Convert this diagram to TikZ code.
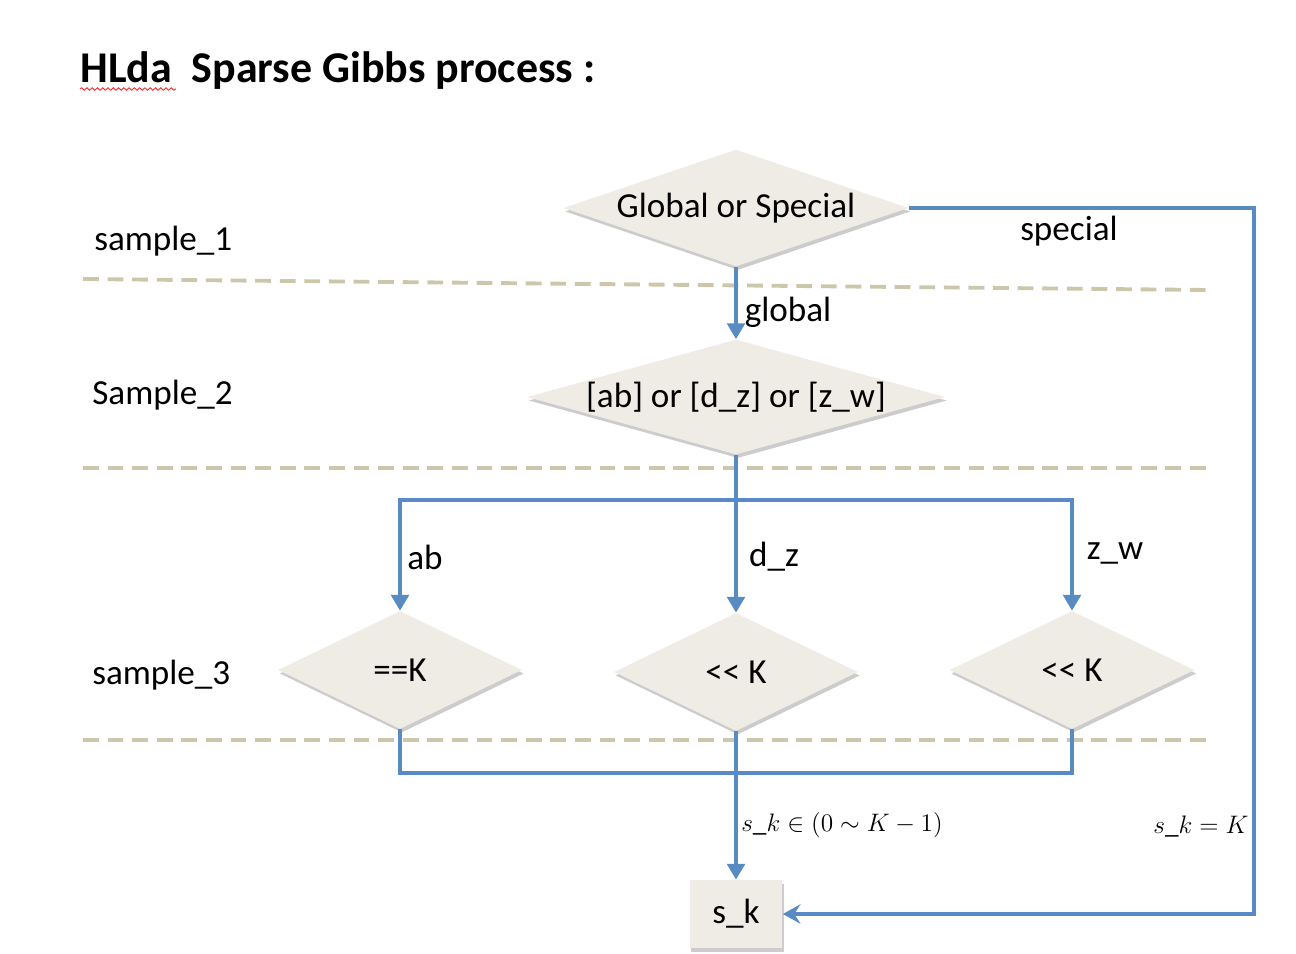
\documentclass[tikz,border=0pt]{standalone}
\usepackage{fontspec}
\setmainfont{Carlito}
\usetikzlibrary{arrows.meta, positioning, shapes.geometric, shadows, decorations.pathmorphing}
\definecolor{flowblue}{RGB}{88,138,196}
\definecolor{lanetan}{RGB}{204,199,170}
\definecolor{boxfill}{RGB}{238,236,229}

\begin{document}
\begin{tikzpicture}[x=0.02cm, y=-0.02cm,
    every node/.style={font=\fontsize{20}{24}\selectfont},
    decision/.style={diamond, fill=boxfill, draw=none, inner sep=0pt,
      drop shadow={shadow xshift=1pt, shadow yshift=-2pt, fill=black, opacity=.2}},
    result/.style={rectangle, fill=boxfill, draw=none, minimum width=1.86cm, minimum height=1.36cm,
      drop shadow={shadow xshift=1pt, shadow yshift=-2pt, fill=black, opacity=.2}},
    lane/.style={draw=lanetan, line width=2.2pt, dash pattern=on 9pt off 5pt},
    flow/.style={draw=flowblue, line width=2.1pt},
    downtip/.style={-{Triangle[length=9pt,width=10pt]}},
    lefttip/.style={-{Stealth[length=10pt,width=11pt,inset=3.5pt]}},
    formula/.style={font=\fontsize{15.5}{18}\selectfont}]
  \useasboundingbox (0,0) rectangle (1296,954);

  % title
  \node (title) [anchor=base west, inner sep=0pt, font=\fontsize{25}{30}\selectfont\bfseries] at (80,82) {HLda\ \ Sparse Gibbs process :};
  \draw[red!85, line width=0.5pt, decorate, decoration={snake, amplitude=0.7pt, segment length=3pt}] (80,89) -- (176,89);

  % swim lanes
  \draw[lane] (83,279) -- (1208,290);
  \draw[lane] (83,468) -- (1208,468);
  \draw[lane] (83,740) -- (1208,740);
  \node (lane1) [anchor=west, inner sep=0pt] at (94,241) {sample\_1};
  \node (lane2) [anchor=west, inner sep=0pt] at (92,395) {Sample\_2};
  \node (lane3) [anchor=west, inner sep=0pt] at (92,675) {sample\_3};

  % decisions
  \node (d1) [decision, minimum width=6.9cm, minimum height=2.34cm,
    label={center:{Global or Special}}] at (736,208) {};
  \node (d2) [decision, minimum width=8.36cm, minimum height=2.3cm,
    label={center:{[ab] or [d\_z] or [z\_w]}}] at (736,397) {};
  \node (ab) [decision, minimum width=4.88cm, minimum height=2.36cm,
    label={center:{==K}}] at (400,670) {};
  \node (dz) [decision, minimum width=4.88cm, minimum height=2.36cm,
    label={center:{<{}< K}}] at (736,672) {};
  \node (zw) [decision, minimum width=4.9cm, minimum height=2.36cm,
    label={center:{<{}< K}}] at (1072,670) {};
  \node (sk) [result] at (736,914) {s\_k};

  % connectors
  \coordinate (turn) at (1254,208);
  \coordinate (split) at (736,500);
  \coordinate (merge) at (736,773);
  \draw[flow, lefttip] (d1.east) -- (turn) |- (sk.east);
  \draw[flow, downtip] (d1.south) -- (d2.north);
  \draw[flow] (d2.south) -- (split);
  \draw[flow, downtip] (split) -| (ab.north);
  \draw[flow, downtip] (split) -- (dz.north);
  \draw[flow, downtip] (split) -| (zw.north);
  \draw[flow] (ab.south) |- (merge);
  \draw[flow] (zw.south) |- (merge);
  \draw[flow] (dz.south) -- (merge);
  \draw[flow, downtip] (merge) -- (sk.north);

  % edge labels
  \node (lspecial) at (1069,231) {special};
  \node (lglobal) at (788,312) {global};
  \node (lab) at (425,557) {ab};
  \node (ldz) at (774,557) {d\_z};
  \node (lzw) at (1115,553) {z\_w};
  \node (lin) [formula] at (842,825) {$s\_k \in \bigl(0 \sim K - 1\bigr)$};
  \node (leq) [formula] at (1201,827) {$s\_k = K$};
\end{tikzpicture}
\end{document}
